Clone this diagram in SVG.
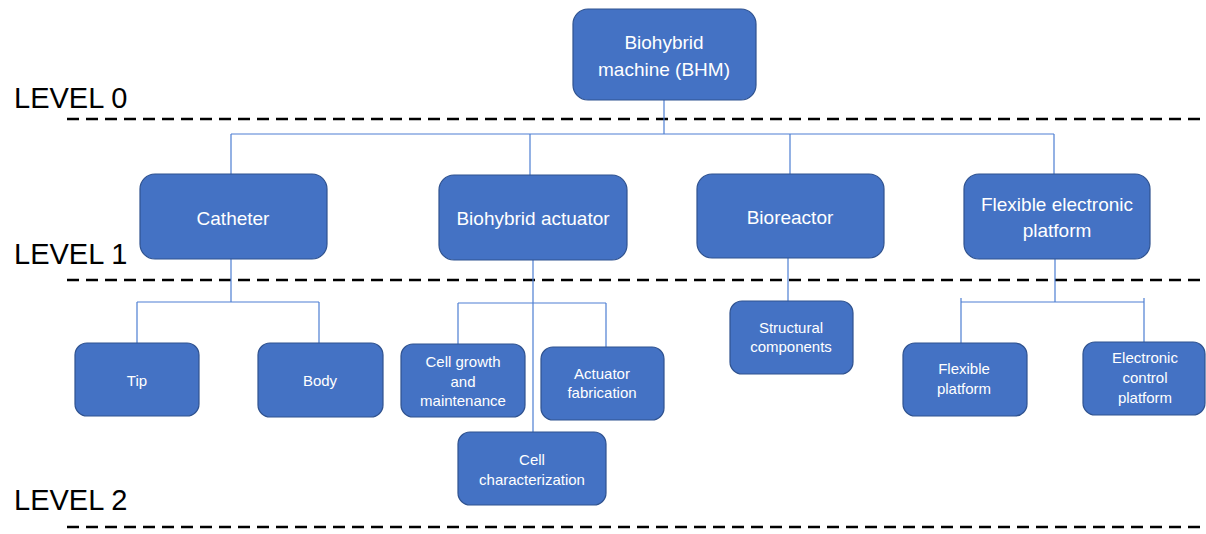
<svg xmlns="http://www.w3.org/2000/svg" width="1206" height="534" viewBox="0 0 1206 534">
<style>
.box{fill:#4472C4;stroke:#2F528F;stroke-width:1.2}
.t1{font-family:"Liberation Sans",Arial,sans-serif;font-size:19px;fill:#fff;text-anchor:middle}
.t2{font-family:"Liberation Sans",Arial,sans-serif;font-size:15px;fill:#fff;text-anchor:middle}
.lvl{font-family:"Liberation Sans",Arial,sans-serif;font-size:29px;fill:#000}
.dash{stroke:#000;stroke-width:2.5;stroke-dasharray:12 7;fill:none}
.con{stroke:#4E7FD3;stroke-width:1.2;fill:none}
</style>
<rect width="1206" height="534" fill="#fff"/>
<g id="levels">
<line class="dash" x1="67" y1="119" x2="1206" y2="119"/>
<line class="dash" x1="67" y1="280" x2="1206" y2="280"/>
<line class="dash" x1="67" y1="527" x2="1206" y2="527"/>
<text class="lvl" x="14" y="108">LEVEL 0</text>
<text class="lvl" x="14" y="264">LEVEL 1</text>
<text class="lvl" x="14" y="510">LEVEL 2</text>
</g>
<g id="connectors">
<path class="con" d="M664 100V134M231 134H1054M231 134V174M530 134V175M790 134V174M1054 134V174"/>
<path class="con" d="M231 259V302M137 302H319M137 302V343M319 302V343"/>
<path class="con" d="M533 260V432M458 303H606M458 303V344M606 303V347"/>
<path class="con" d="M788 258V301"/>
<path class="con" d="M1055 259V302M961 302H1144M961 298V343M1144 298V342"/>
</g>
<g id="bhm"><rect class="box" x="573" y="9" width="183" height="91" rx="15"/>
<text class="t1" x="664" y="49">Biohybrid</text><text class="t1" x="664" y="76">machine (BHM)</text></g>
<g id="catheter"><rect class="box" x="140" y="174" width="187" height="85" rx="15"/>
<text class="t1" x="233" y="225">Catheter</text></g>
<g id="actuator"><rect class="box" x="439" y="175" width="188" height="85" rx="15"/>
<text class="t1" x="533" y="225">Biohybrid actuator</text></g>
<g id="bioreactor"><rect class="box" x="697" y="174" width="187" height="84" rx="15"/>
<text class="t1" x="790" y="224">Bioreactor</text></g>
<g id="flexible-electronic"><rect class="box" x="964" y="174" width="186" height="85" rx="15"/>
<text class="t1" x="1057" y="211">Flexible electronic</text><text class="t1" x="1057" y="237">platform</text></g>
<g id="tip"><rect class="box" x="75" y="343" width="124" height="73" rx="12"/>
<text class="t2" x="137" y="386">Tip</text></g>
<g id="body"><rect class="box" x="258" y="343" width="125" height="74" rx="12"/>
<text class="t2" x="320" y="386">Body</text></g>
<g id="cell-growth"><rect class="box" x="401" y="344" width="124" height="73" rx="12"/>
<text class="t2" x="463" y="367">Cell growth</text><text class="t2" x="463" y="387">and</text><text class="t2" x="463" y="406">maintenance</text></g>
<g id="actuator-fabrication"><rect class="box" x="541" y="347" width="123" height="73" rx="12"/>
<text class="t2" x="602" y="379">Actuator</text><text class="t2" x="602" y="398">fabrication</text></g>
<g id="cell-characterization"><rect class="box" x="458" y="432" width="148" height="73" rx="12"/>
<text class="t2" x="532" y="465">Cell</text><text class="t2" x="532" y="485">characterization</text></g>
<g id="structural"><rect class="box" x="730" y="301" width="123" height="73" rx="12"/>
<text class="t2" x="791" y="333">Structural</text><text class="t2" x="791" y="352">components</text></g>
<g id="flexible-platform"><rect class="box" x="903" y="343" width="124" height="73" rx="12"/>
<text class="t2" x="964" y="374">Flexible</text><text class="t2" x="964" y="394">platform</text></g>
<g id="electronic-control"><rect class="box" x="1083" y="342" width="122" height="73" rx="12"/>
<text class="t2" x="1145" y="363">Electronic</text><text class="t2" x="1145" y="383">control</text><text class="t2" x="1145" y="403">platform</text></g>
</svg>
